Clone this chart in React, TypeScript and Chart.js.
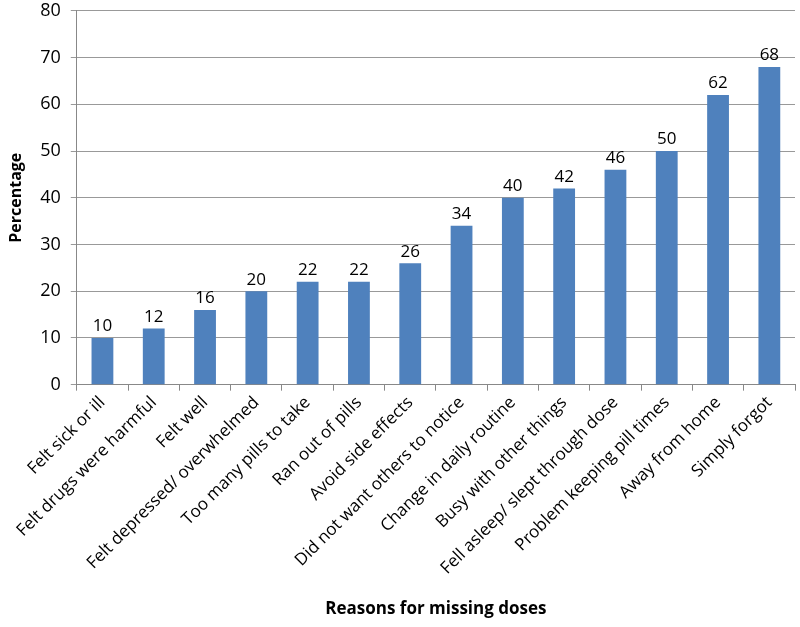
import React, { useEffect, useRef } from "react";
import { Chart, registerables } from "chart.js";

Chart.register(...registerables);

const categories = [
  "Felt sick or ill",
  "Felt drugs were harmful",
  "Felt well",
  "Felt depressed/ overwhelmed",
  "Too many pills to take",
  "Ran out of pills",
  "Avoid side effects",
  "Did not want others to notice",
  "Change in daily routine",
  "Busy with other things",
  "Fell asleep/ slept through dose",
  "Problem keeping pill times",
  "Away from home",
  "Simply forgot",
];
const values = [10, 12, 16, 20, 22, 22, 26, 34, 40, 42, 46, 50, 62, 68];

const FONT = "'Open Sans', 'Liberation Sans', sans-serif";

const labelPlugin = {
  id: "valueLabels",
  afterDatasetsDraw(chart: any) {
    const ctx = chart.ctx;
    const meta = chart.getDatasetMeta(0);
    ctx.save();
    ctx.font = `17px ${FONT}`;
    ctx.fillStyle = "#000";
    ctx.textAlign = "center";
    ctx.textBaseline = "bottom";
    meta.data.forEach((bar: any, i: number) => {
      ctx.fillText(String(values[i]), bar.x, bar.y - 3);
    });
    ctx.restore();
  },
};

export default function App() {
  const ref = useRef<HTMLCanvasElement>(null);
  useEffect(() => {
    document.body.style.margin = "0";
    const chart = new Chart(ref.current!, {
      type: "bar",
      data: {
        labels: categories,
        datasets: [
          {
            data: values,
            backgroundColor: "#4F81BD",
            barPercentage: 0.85,
            categoryPercentage: 0.5,
          },
        ],
      },
      options: {
        animation: false,
        responsive: false,
        layout: { padding: { top: 0, right: 5, left: 7, bottom: 8 } },
        plugins: { legend: { display: false }, tooltip: { enabled: false } },
        scales: {
          x: {
            grid: {
              display: true,
              drawOnChartArea: false,
              drawTicks: true,
              tickLength: 6,
              color: "#888",
              offset: true,
            },
            border: { color: "#888" },
            ticks: {
              color: "#000",
              font: { family: FONT, size: 17 },
              maxRotation: 45,
              minRotation: 45,
              autoSkip: false,
              padding: 2,
            },
            title: {
              display: true,
              text: "Reasons for missing doses",
              color: "#000",
              font: { family: FONT, size: 17, weight: "bold" },
              padding: { top: 18, bottom: 0 },
            },
          },
          y: {
            min: 0,
            max: 80,
            ticks: {
              stepSize: 10,
              color: "#000",
              font: { family: FONT, size: 18 },
              padding: 10,
            },
            grid: { color: "#999", tickLength: 6 },
            border: { color: "#888" },
            title: {
              display: true,
              text: "Percentage",
              color: "#000",
              font: { family: FONT, size: 16, weight: "bold" },
              padding: { top: 0, bottom: 4 },
            },
          },
        },
      },
      plugins: [labelPlugin],
    });
    return () => chart.destroy();
  }, []);
  return (
    <div style={{ width: 800, height: 627, overflow: "hidden" }}>
      <canvas
        ref={ref}
        width={800}
        height={637}
        style={{ display: "block", marginTop: -10 }}
      />
    </div>
  );
}
